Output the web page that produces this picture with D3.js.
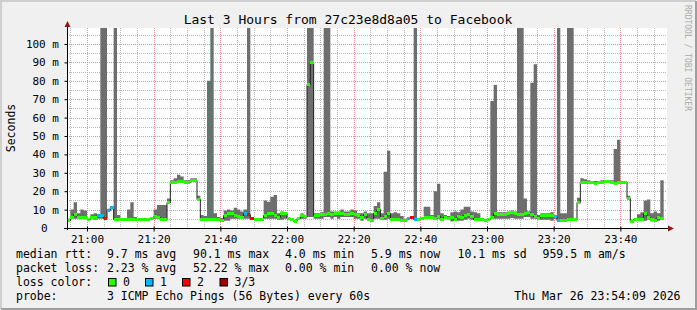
<!DOCTYPE html>
<html>
<head>
<meta charset="utf-8">
<script src="https://cdn.jsdelivr.net/npm/d3@7"></script>
<style>
  html, body { margin: 0; padding: 0; background: #fff; }
  svg { display: block; }
  text { font-family: "DejaVu Sans Mono", monospace; fill: #000; }
</style>
</head>
<body>
<svg id="chart" width="697" height="310"></svg>
<script>
// one sample per minute, starting 20:54 (ms)
const median = [
  4.5, 6, 7.5, 6.2, 6.2, 6.2, 5, 6, 6.2, 7,
  7, 5.3, 9.8, 11.6, 5, 5, 5, 5, 5, 5,
  5, 5, 5, 5, 5, 5.2, 6.5, 6, 5, 5,
  14, 25, 25, 25.5, 25.5, 25, 25, 26, 26, 16,
  5, 5, 5, 5, 5, 5, 4.5, 7, 8, 8,
  7, 6.5, 6, 8, 7.4, 5.2, 4.7, 4.7, 4.7, 7,
  8.3, 8.3, 7, 6, 8, 8, 5.5, 5, 4, 5.5,
  7, 6.5, 78, 90, 7, 7, 7.5, 7.5, 8, 7.5,
  8, 8, 8, 7.5, 7.5, 8, 7.5, 7, 6, 7.5,
  5, 4.5, 8, 10.5, 5.5, 6.5, 8, 5, 4.7, 4.7,
  4.5, 4.5, 5.2, 5.8, 5, 4.7, 5.5, 5.8, 5.8, 6,
  5.3, 6.5, 5, 6, 5.5, 6, 5, 6.5, 6, 7,
  7.5, 6.5, 5, 4.7, 4.7, 4.5, 5, 6, 8.3, 7.8,
  7.8, 7.5, 8, 8.5, 8, 7.4, 7.5, 8, 8.5, 7.5,
  6.5, 5.5, 7, 7, 7, 7, 6.5, 4.5, 4.2, 4.5,
  4.8, 5, 5, 14.3, 25, 25, 25, 25, 24.5, 25,
  25, 25.3, 25.3, 25, 24.5, 25, 25, 25, 16.5, 4,
  5, 5, 5, 8, 6.2, 5, 4.5, 6, 5.5
];
const lowest = [
  4, 5, 5, 5, 5, 5, 4.5, 5, 4.5, 5,
  5, 5, 9, 10, 5, 4.5, 4.5, 4.5, 4, 4,
  5, 5, 5, 5, 5, 5, 5, 5, 5, 5,
  13, 24, 24.5, 24.5, 24.5, 24.5, 24.5, 25, 25, 15,
  5, 5, 5, 5, 4.5, 4.5, 4, 4, 4, 5,
  5, 5, 5, 5, 5, 5, 4.5, 4.5, 4.5, 5,
  5, 5, 5, 4.5, 4.5, 5, 4.5, 4.5, 3.8, 4.5,
  5, 5, 6, 6, 5, 5, 5, 6, 6, 5,
  6, 5, 6, 6, 6, 6, 5, 5, 4, 5,
  4.5, 4, 5, 5, 4.5, 4.5, 5, 4.5, 4.5, 4.5,
  4, 4, 5, 5.5, 5, 4.5, 4.5, 5, 5, 5,
  4.5, 5, 4.5, 5, 5, 3.5, 4, 4, 4, 4.5,
  5, 4.5, 4.5, 4.5, 4, 4, 4.5, 5, 5, 5,
  5, 5, 5, 5.5, 5, 5, 5, 6, 6, 5,
  5, 4.5, 4.5, 4.5, 4.5, 4, 5, 4, 4, 4,
  4.5, 4.5, 4.5, 13, 24.5, 24.5, 24.5, 24.5, 24, 24.5,
  24.5, 24.5, 24.5, 24.5, 24, 24.5, 24.5, 24.5, 16, 3.5,
  4.5, 4.5, 4.5, 4, 4.5, 3.5, 4, 4, 4.5
];
// 200 = off the top of the graph
const highest = [
  5, 10, 14, 8, 10, 9.5, 5.5, 7.5, 8, 7.5,
  200, 200, 10.5, 12, 200, 7, 5.5, 5.5, 10, 14,
  6, 5.5, 5.5, 5.5, 5.5, 6, 10, 12.5, 12.5, 12.5,
  16, 26, 27, 29, 28, 26, 26, 27, 27, 17.5,
  7, 6.5, 80, 200, 8, 6, 5.5, 9.5, 10, 9.5,
  11, 10, 9, 10, 200, 5.5, 5, 5, 5, 15,
  14.3, 17, 18, 8, 9, 8.5, 6, 5.5, 4.5, 6,
  8, 7, 200, 200, 8, 8, 8.5, 200, 200, 9,
  9, 9, 10, 9, 9, 10, 9.5, 8, 8, 9,
  8, 8, 12, 14, 8, 30.6, 42, 8, 8.5, 8,
  6.5, 5, 5.5, 6, 200, 5, 6, 11.5, 11.5, 7,
  20, 24, 8, 7, 6.5, 8.5, 9, 8.5, 10, 11.5,
  11.5, 9, 8.5, 8, 5.5, 5, 5.5, 69, 77.7, 8.5,
  8.5, 8.5, 9, 9.5, 9, 200, 200, 16, 9, 79,
  89, 7, 8, 8, 8, 8.5, 7, 200, 8, 8,
  200, 200, 5.5, 16.5, 27, 26.5, 26, 25.5, 25.5, 25.5,
  26, 26, 26, 26, 43, 48, 25.5, 25.5, 17.5, 4.5,
  5.5, 7.5, 8.5, 15, 15.5, 8, 9, 8, 26
];
const lossMinute = [9, 10, 11, 12, 13, 53, 54, 55, 102, 103, 104, 146, 147];
const lossCount  = [1, 1, 2, 1, 1, 1, 2, 2, 1, 2, 1, 1, 1];

const lossLabels = ['0', '1', '2', '3/3'];
const lossColors = ['#26ff00', '#00b8ff', '#ff0000', '#a00000'];
const yTickValues = [0, 10, 20, 30, 40, 50, 60, 70, 80, 90, 100];
const xTickLabels = ['21:00', '21:20', '21:40', '22:00', '22:20', '22:40', '23:00', '23:20', '23:40'];
const rttStats = ['9.7 ms avg', '90.1 ms max', '4.0 ms min', '5.9 ms now', '10.1 ms sd', '959.5 m am/s'];
const lossStats = ['2.23 % avg', '52.22 % max', '0.00 % min', '0.00 % now'];

const W = 697, H = 310;
const plot = {left: 67, right: 667, top: 28, bottom: 228};
const t0 = Date.UTC(2026, 2, 26, 20, 54);
const minute = 60000;

const svg = d3.select('#chart');

let x = d3.scaleUtc()
  .domain([new Date(t0), new Date(t0 + 180 * minute)])
  .range([plot.left, plot.right]);
let y = d3.scaleLinear()
  .domain([0, 200 / 1.84])
  .range([plot.bottom, plot.top]);

const lossOf = new Array(median.length).fill(0);
lossMinute.forEach((m, i) => lossOf[m] = lossCount[i]);
const data = median.map((m, i) => ({
  t: new Date(t0 + i * minute), med: m, lo: lowest[i], hi: highest[i], loss: lossOf[i]
}));
const lastT = new Date(t0 + median.length * minute);

// background + 3d frame
svg.append('rect').attr('width', W).attr('height', H).attr('fill', '#f0f0f0');
svg.append('path').attr('d', 'M1,309 V1 H696').attr('fill', 'none')
  .attr('stroke', '#cfcfcf').attr('stroke-width', 2);
svg.append('path').attr('d', 'M1,309 H696 V1').attr('fill', 'none')
  .attr('stroke', '#9e9e9e').attr('stroke-width', 2);

svg.append('rect')
  .attr('x', plot.left).attr('y', plot.top)
  .attr('width', plot.right - plot.left).attr('height', plot.bottom - plot.top)
  .attr('fill', '#fff');

svg.append('defs').append('clipPath').attr('id', 'clip')
  .append('rect')
  .attr('x', plot.left).attr('y', plot.top)
  .attr('width', plot.right - plot.left).attr('height', plot.bottom - plot.top);

// grid
let grid = svg.append('g').attr('fill', 'none').attr('stroke-dasharray', '1,1')
  .attr('shape-rendering', 'crispEdges');
let minorX = x.ticks(d3.utcMinute.every(5)).filter(d => d.getUTCMinutes() % 20 != 0);
let majorX = xTickLabels.map(s => {
  let [h, m] = s.split(':').map(Number);
  return new Date(Date.UTC(2026, 2, 26, h, m));
});
let minorY = d3.range(5, 110, 10);
let majorY = yTickValues.filter(v => v > 0);
const px = v => Math.round(v) + 0.5;

grid.selectAll('.vmin').data(minorX).enter().append('line')
  .attr('x1', d => px(x(d))).attr('x2', d => px(x(d)))
  .attr('y1', plot.top).attr('y2', plot.bottom)
  .attr('stroke', '#b8b8b8');
grid.selectAll('.hmin').data(minorY).enter().append('line')
  .attr('x1', plot.left).attr('x2', plot.right)
  .attr('y1', d => px(y(d))).attr('y2', d => px(y(d)))
  .attr('stroke', '#b8b8b8');
grid.selectAll('.vmaj').data(majorX).enter().append('line')
  .attr('x1', d => px(x(d))).attr('x2', d => px(x(d)))
  .attr('y1', plot.top).attr('y2', plot.bottom)
  .attr('stroke', '#f08c8c');
grid.selectAll('.hmaj').data(majorY).enter().append('line')
  .attr('x1', plot.left).attr('x2', plot.right)
  .attr('y1', d => px(y(d))).attr('y2', d => px(y(d)))
  .attr('stroke', '#f08c8c');

// smoke
let g = svg.append('g').attr('clip-path', 'url(#clip)');
let stepData = data.concat([Object.assign({}, data[data.length - 1], {t: lastT})]);
let smoke = d3.area()
  .x(d => x(d.t))
  .y0(d => y(d.lo))
  .y1(d => y(d.hi))
  .curve(d3.curveStepAfter);
g.append('path').attr('d', smoke(stepData)).attr('fill', '#6e6e6e');

// median line
let line = d3.line()
  .x(d => x(d.t))
  .y(d => Math.round(y(d.med)) + 0.5)
  .curve(d3.curveStepAfter);
g.append('path').attr('d', line(stepData))
  .attr('fill', 'none').attr('stroke', '#202020').attr('stroke-width', 1);

// loss coloured median bands
g.selectAll('.band').data(data).enter().append('rect')
  .attr('x', d => x(d.t))
  .attr('width', d => x(new Date(+d.t + minute)) - x(d.t))
  .attr('y', d => Math.round(y(d.med)) - 1)
  .attr('height', 3)
  .attr('shape-rendering', 'crispEdges')
  .attr('fill', d => lossColors[d.loss]);

// axes
let yAxis = d3.axisLeft(y).tickValues(yTickValues)
  .tickSize(3).tickPadding(5.5)
  .tickFormat(v => v == 0 ? '0' : v + ' m');
let ya = svg.append('g').attr('transform', 'translate(' + (plot.left + 0.5) + ',0)').call(yAxis);
ya.select('.domain').remove();
ya.selectAll('text').style('font-size', '11px')
  .attr('dx', v => v == 0 ? -11.5 : 0);
ya.selectAll('line').attr('stroke', '#000');

let xAxis = d3.axisBottom(x).tickValues(majorX)
  .tickSize(3).tickPadding(3.3)
  .tickFormat((d, i) => xTickLabels[i]);
let xa = svg.append('g').attr('transform', 'translate(0,' + (plot.bottom + 0.5) + ')').call(xAxis);
xa.select('.domain').remove();
xa.selectAll('text').style('font-size', '11px');
xa.selectAll('line').attr('y1', -2).attr('stroke', '#000');

svg.append('line')
  .attr('x1', plot.left + 0.5).attr('x2', plot.left + 0.5)
  .attr('y1', plot.bottom + 2).attr('y2', plot.top - 4)
  .attr('stroke', '#000');
svg.append('line')
  .attr('x1', plot.left - 3).attr('x2', plot.right + 2)
  .attr('y1', plot.bottom + 0.5).attr('y2', plot.bottom + 0.5)
  .attr('stroke', '#000');
svg.append('path')
  .attr('d', 'M' + (plot.left + 0.5) + ',' + (plot.top - 7) + ' l3,6 h-6 z')
  .attr('fill', '#8b1a1a');
svg.append('path')
  .attr('d', 'M' + (plot.right + 7) + ',' + (plot.bottom + 0.5) + ' l-6,-3 v6 z')
  .attr('fill', '#8b1a1a');

// titles
svg.append('text')
  .attr('x', 348).attr('y', 23.5)
  .attr('text-anchor', 'middle')
  .style('font-size', '13px')
  .text('Last 3 Hours from 27c23e8d8a05 to Facebook');
svg.append('text')
  .attr('transform', 'translate(15,128) rotate(-90)')
  .attr('text-anchor', 'middle')
  .style('font-size', '11.5px')
  .text('Seconds');
svg.append('text')
  .attr('transform', 'translate(684.5,5) rotate(90)')
  .style('font-size', '8px').style('fill', '#ababab')
  .text('RRDTOOL / TOBI OETIKER');

// legend
let legend = svg.append('g').style('font-size', '11.5px');
const statX = [107, 193, 285, 371, 457.5, 542.5];
legend.append('text').attr('x', 16).attr('y', 258).text('median rtt:');
rttStats.forEach((s, i) => legend.append('text').attr('x', statX[i]).attr('y', 258).text(s));
legend.append('text').attr('x', 16).attr('y', 272).text('packet loss:');
lossStats.forEach((s, i) => legend.append('text').attr('x', statX[i]).attr('y', 272).text(s));
legend.append('text').attr('x', 16).attr('y', 286).text('loss color:');
const boxX = [108, 145, 182, 219.5];
lossLabels.forEach((s, i) => {
  legend.append('rect')
    .attr('x', boxX[i] + 0.5).attr('y', 278.5)
    .attr('width', 7.5).attr('height', 7.5)
    .attr('fill', lossColors[i]).attr('stroke', '#000').attr('stroke-width', 1);
  legend.append('text').attr('x', boxX[i] + 15).attr('y', 286).text(s);
});
legend.append('text').attr('x', 16).attr('y', 300).text('probe:');
legend.append('text').attr('x', 107).attr('y', 300).text('3 ICMP Echo Pings (56 Bytes) every 60s');
legend.append('text').attr('x', 680.5).attr('y', 300).attr('text-anchor', 'end')
  .text('Thu Mar 26 23:54:09 2026');
</script>
</body>
</html>
